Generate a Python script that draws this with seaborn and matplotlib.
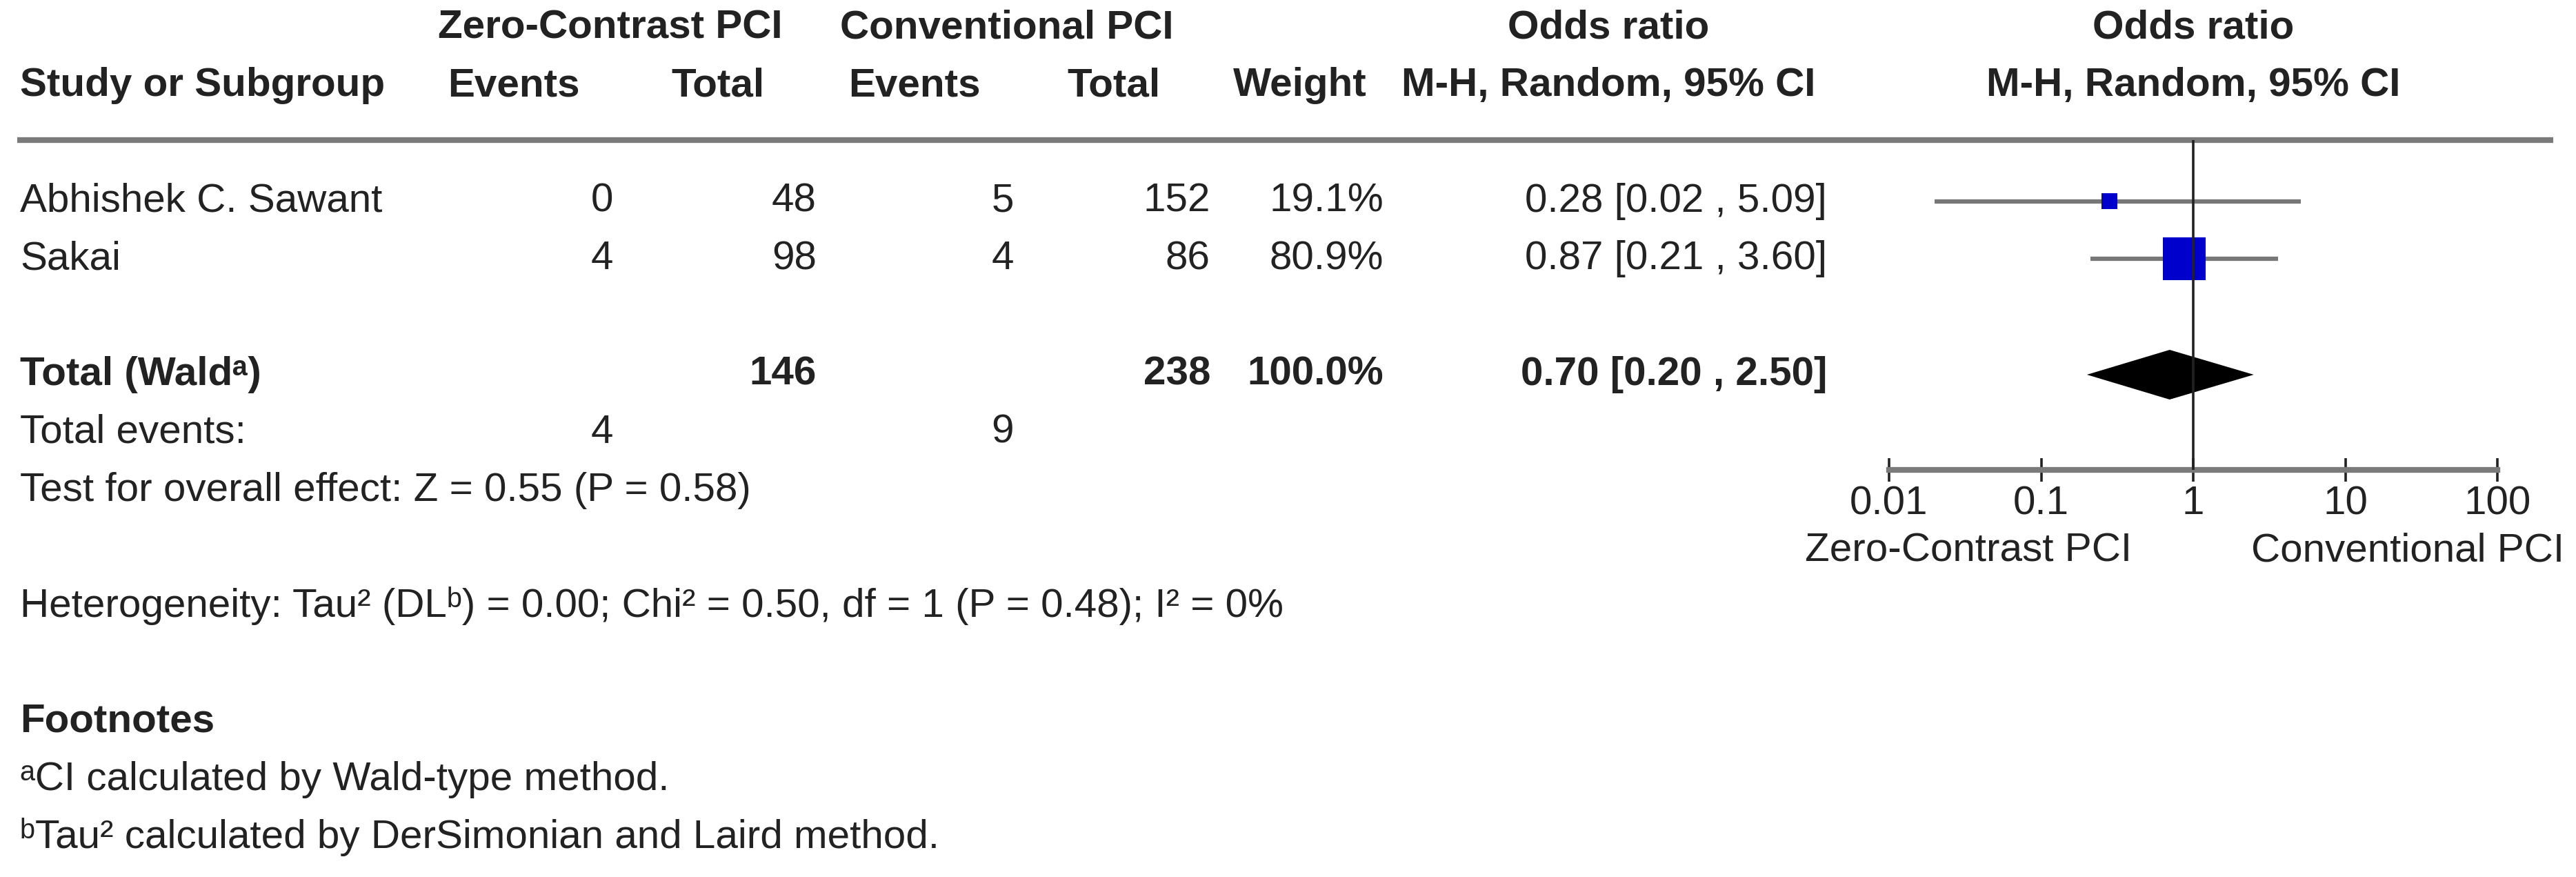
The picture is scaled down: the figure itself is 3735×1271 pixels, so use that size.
import numpy as np
import pandas as pd
import matplotlib
matplotlib.use("Agg")
import matplotlib.pyplot as plt
import seaborn as sns

# data
studies = ["Abhishek C. Sawant", "Sakai"]
zc_events = [0, 4]
zc_total = [48, 98]
cv_events = [5, 4]
cv_total = [152, 86]
weight = [19.1, 80.9]
odds_ratio = [0.28, 0.87]
ci_low = [0.02, 0.21]
ci_high = [5.09, 3.60]

pooled = [0.70, 0.20, 2.50]          # OR, low, high
total_n = [146, 238]
total_events = [4, 9]
overall_test = "Test for overall effect: Z = 0.55 (P = 0.58)"
heterogeneity = "Heterogeneity: Tau² (DLᵇ) = 0.00; Chi² = 0.50, df = 1 (P = 0.48); I² = 0%"
footnotes = ["ᵃCI calculated by Wald-type method.",
             "ᵇTau² calculated by DerSimonian and Laird method."]
axis_ticks = [0.01, 0.1, 1, 10, 100]
tick_labels = ["0.01", "0.1", "1", "10", "100"]
favours = ["Zero-Contrast PCI", "Conventional PCI"]

df = pd.DataFrame({"study": studies, "or": odds_ratio, "low": ci_low,
                   "high": ci_high, "weight": weight})

sns.set_style("white")
plt.rcParams["font.family"] = ["Liberation Sans", "DejaVu Sans"]

W, H = 3735, 1271
FS = 42
TXT = "#222222"
GRAY = "#7a7a7a"

# row layout (pixels)
ROW0, PITCH = 124, 83.8
def row_y(r):
    return ROW0 + PITCH * r

fig = plt.figure(figsize=(W / 100, H / 100), dpi=100)
tab = fig.add_axes([0, 0, 1, 1])
tab.set_xlim(0, W)
tab.set_ylim(H, 0)
tab.axis("off")

def put(x, r, s, ha="left", bold=False):
    tab.text(x, row_y(r), s, ha=ha, va="center", fontsize=FS, color=TXT,
             fontweight="bold" if bold else "normal")

# headers
put(885, -1, "Zero-Contrast PCI", ha="center", bold=True)
put(1460, -1, "Conventional PCI", ha="center", bold=True)
put(2332, -1, "Odds ratio", ha="center", bold=True)
put(3180, -1, "Odds ratio", ha="center", bold=True)
put(29, 0, "Study or Subgroup", bold=True)
for x, s in zip([841, 1108, 1422, 1682, 1982, 2632],
                ["Events", "Total", "Events", "Total", "Weight", "M-H, Random, 95% CI"]):
    put(x, 0, s, ha="right", bold=True)
put(3180, 0, "M-H, Random, 95% CI", ha="center", bold=True)

tab.plot([25, 3702], [203, 203], color=GRAY, lw=6, solid_capstyle="butt")

# study rows
for i, row in df.iterrows():
    r = 2 + i
    put(29, r, row["study"])
    put(889, r, str(zc_events[i]), ha="right")
    put(1184, r, str(zc_total[i]), ha="right")
    put(1470, r, str(cv_events[i]), ha="right")
    put(1755, r, str(cv_total[i]), ha="right")
    put(2006, r, f"{row['weight']:.1f}%", ha="right")
    put(2649, r, f"{row['or']:.2f} [{row['low']:.2f} , {row['high']:.2f}]", ha="right")

# total
put(29, 5, "Total (Waldᵃ)", bold=True)
put(1184, 5, str(total_n[0]), ha="right", bold=True)
put(1755, 5, str(total_n[1]), ha="right", bold=True)
put(2006, 5, f"{sum(weight):.1f}%", ha="right", bold=True)
put(2649, 5, f"{pooled[0]:.2f} [{pooled[1]:.2f} , {pooled[2]:.2f}]", ha="right", bold=True)
put(29, 6, "Total events:")
put(889, 6, str(total_events[0]), ha="right")
put(1470, 6, str(total_events[1]), ha="right")
put(29, 7, overall_test)
put(29, 9, heterogeneity)
put(29, 11, "Footnotes", bold=True)
put(29, 12, footnotes[0])
put(29, 13, footnotes[1])

# forest panel: y in the same pixel units as the table
X0, X1, YTOP, YAX = 2739, 3621, 203, 681
fa = fig.add_axes([X0 / W, (H - YAX) / H, (X1 - X0) / W, (YAX - YTOP) / H])
fa.set_xscale("log")
fa.set_xlim(axis_ticks[0], axis_ticks[-1])
fa.set_ylim(YAX, YTOP)
fa.patch.set_alpha(0)

df["y"] = [row_y(2 + i) for i in range(len(df))]
fa.hlines(df["y"], df["low"], df["high"], color="#777777", lw=4.5, zorder=2)
sns.scatterplot(data=df, x="or", y="y", size="weight", sizes=(274, 1992),
                marker="s", color="#0000CC", linewidth=0, legend=False,
                ax=fa, zorder=3)
yt = row_y(5)
fa.fill([pooled[1], pooled[0], pooled[2], pooled[0]],
        [yt, yt - 36, yt, yt + 36], color="black", lw=0, zorder=3)
fa.axvline(1, color="#222222", lw=2.6, zorder=4)

for s in ["top", "left", "right"]:
    fa.spines[s].set_visible(False)
fa.spines["bottom"].set_color(GRAY)
fa.spines["bottom"].set_linewidth(6)
fa.set_xticks(axis_ticks, labels=tick_labels)
fa.xaxis.set_minor_locator(matplotlib.ticker.NullLocator())
# seaborn's white style switches bottom ticks off
fa.tick_params(axis="x", bottom=True, direction="inout", length=24, width=2.6,
               color="#222222", labelsize=FS, labelcolor=TXT, pad=4)
fa.set_yticks([])
fa.set_xlabel("")
fa.set_ylabel("")

tab.text(2854, 798, favours[0], ha="center", va="center", fontsize=FS, color=TXT)
tab.text(3491, 798, favours[1], ha="center", va="center", fontsize=FS, color=TXT)

fig.savefig("out.png", dpi=100)
